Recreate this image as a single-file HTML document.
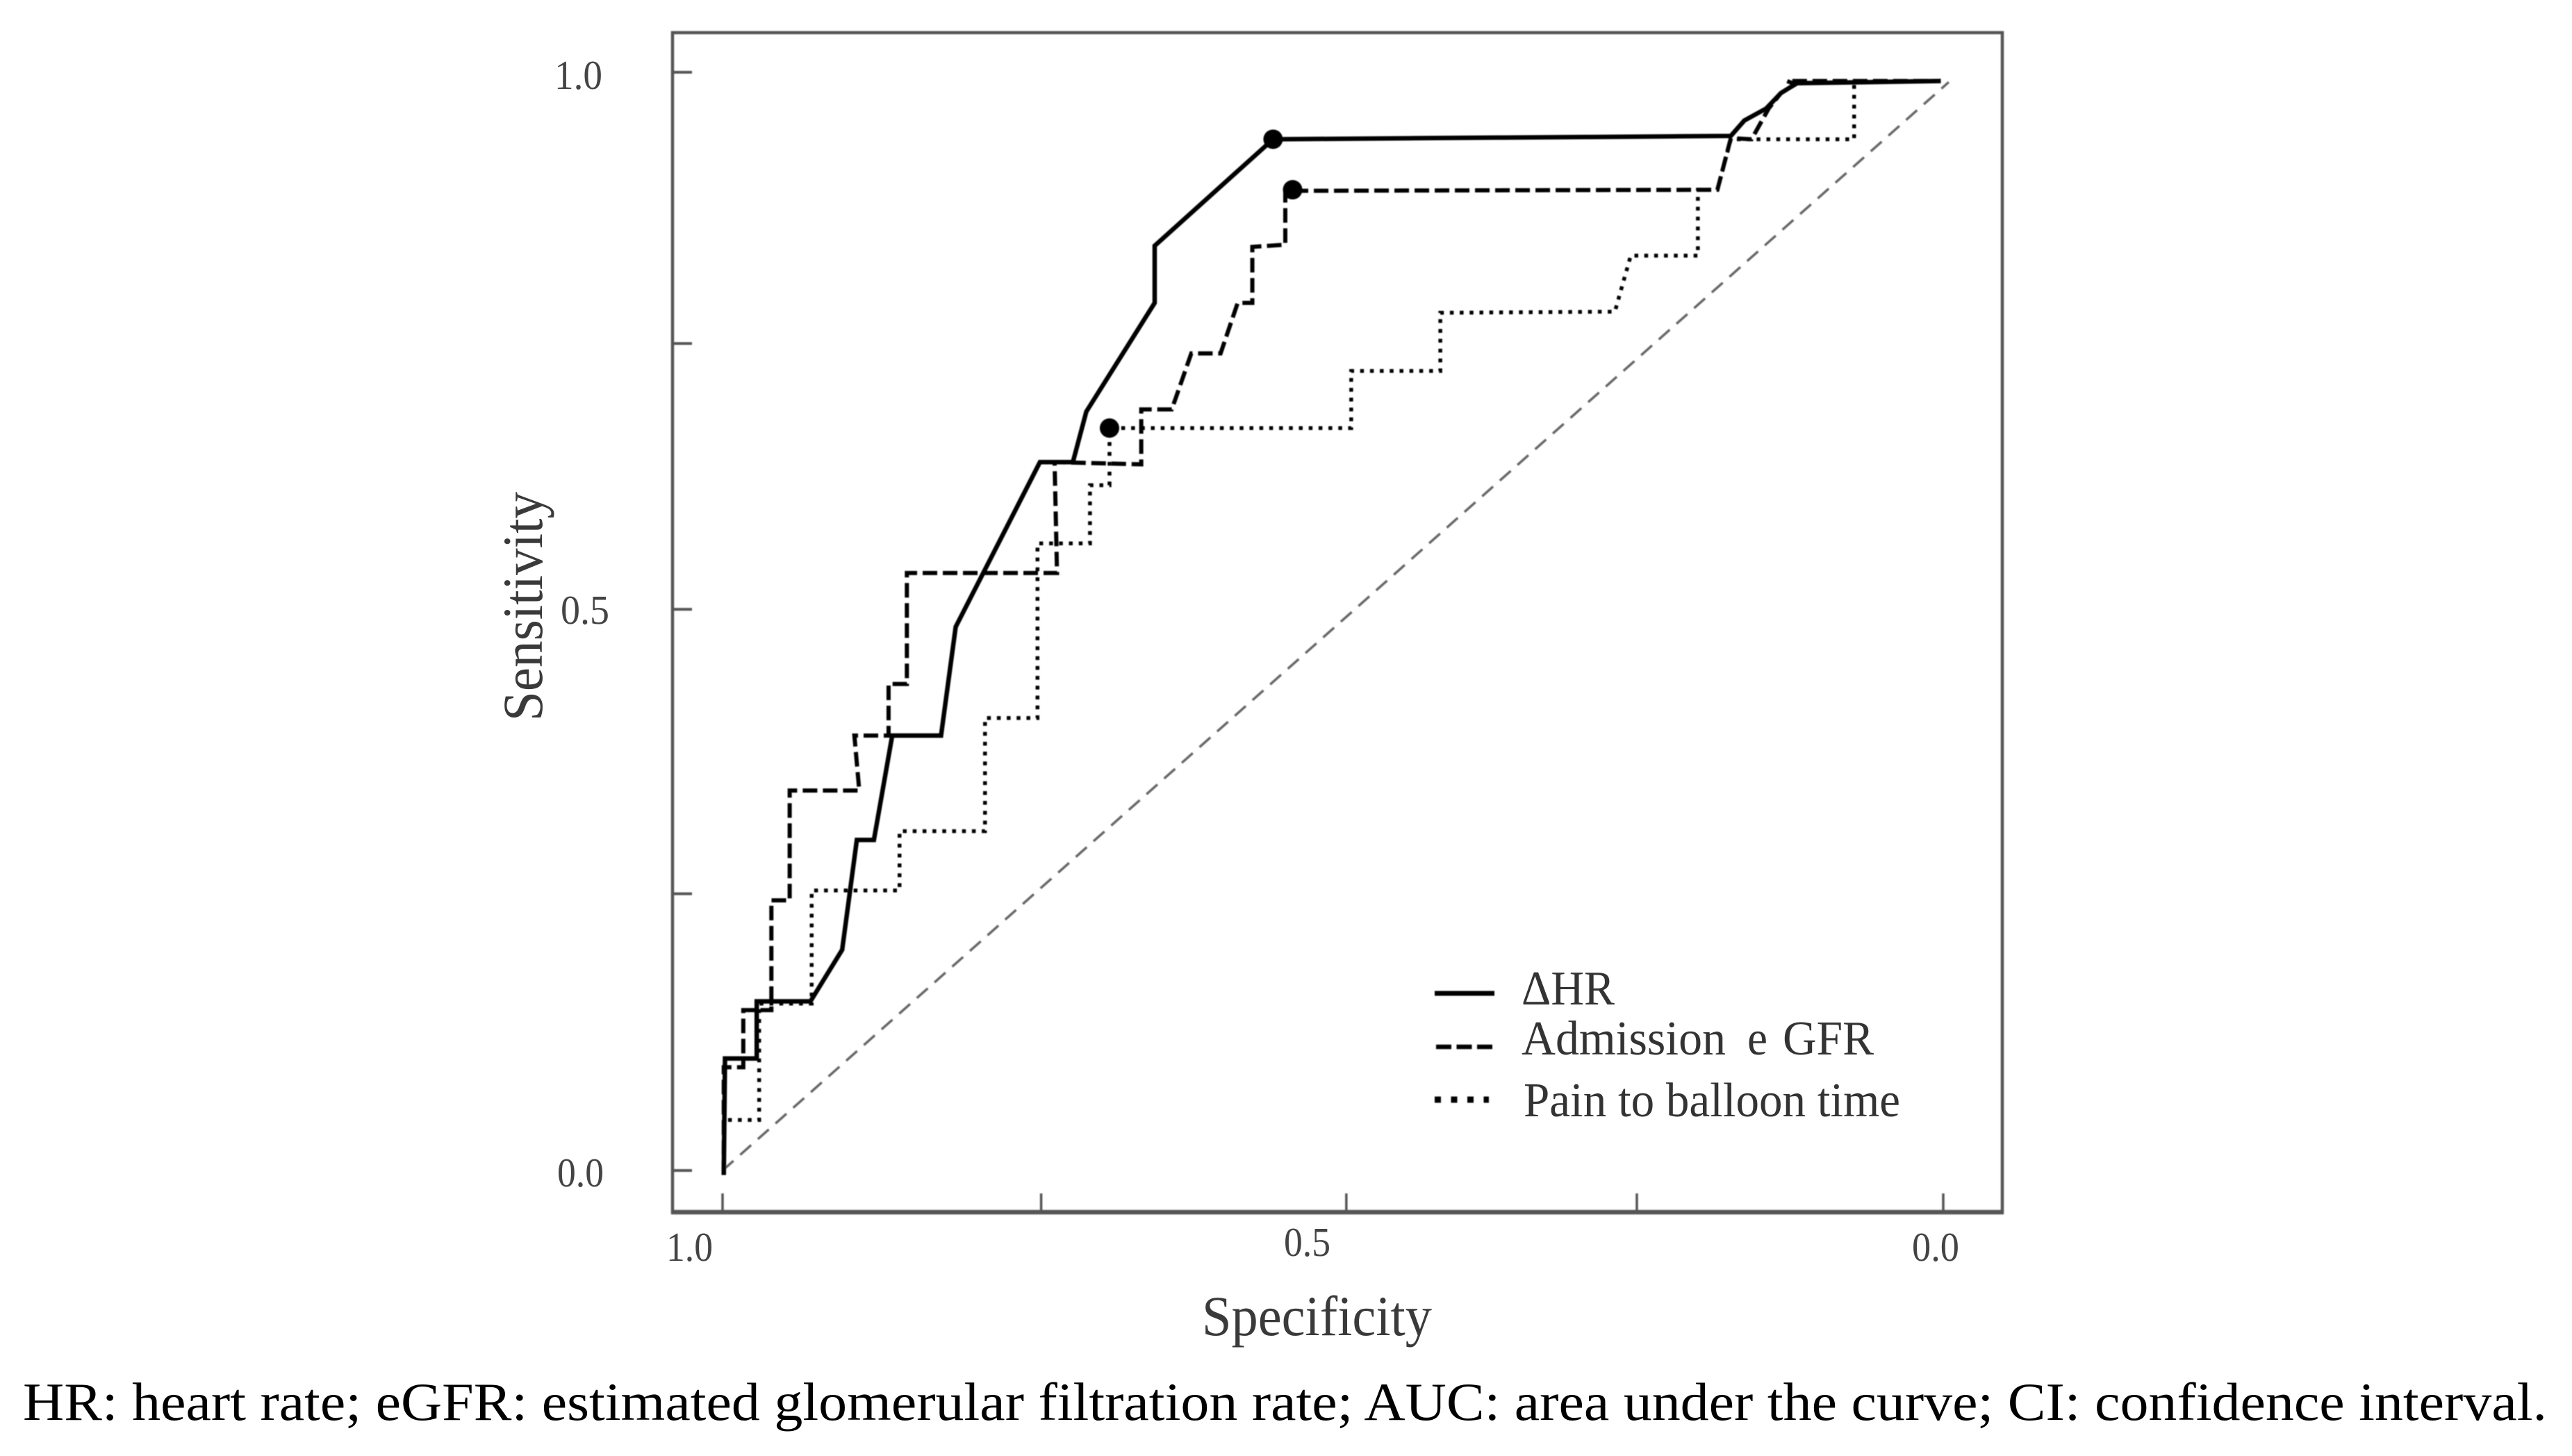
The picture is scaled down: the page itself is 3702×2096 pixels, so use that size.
<!DOCTYPE html>
<html lang="en">
<head>
<meta charset="utf-8">
<title>ROC curves</title>
<style>
html,body{margin:0;padding:0;background:#fff}
svg{display:block}
text{font-family:"Liberation Serif",serif}
.tick{font-size:59px;fill:#444}
.axis{font-size:82px;fill:#3a3a3a}
.leg{font-size:70px;fill:#333}
</style>
</head>
<body>
<svg id="chart" xmlns="http://www.w3.org/2000/svg" width="3702" height="2096" viewBox="0 0 3702 2096">
  <defs><filter id="soft" x="-2%" y="-2%" width="104%" height="104%"><feGaussianBlur stdDeviation="0.9"/></filter></defs>
  <rect x="0" y="0" width="3702" height="2096" fill="#fff"/>
  <g id="plot" filter="url(#soft)">
    <rect x="968" y="47" width="1914" height="1698" fill="none" stroke="#555" stroke-width="4.5"/>
    <line x1="966" y1="1745" x2="2884" y2="1745" stroke="#555" stroke-width="6.5"/>
    <g id="ticks"></g>
    <g id="series"></g>
    <g>
      <line x1="2065" y1="1430" x2="2151" y2="1430" stroke="#000" stroke-width="7"/>
      <line x1="2067" y1="1507" x2="2148" y2="1507" stroke="#000" stroke-width="6.5" stroke-dasharray="22 7.5"/>
      <line x1="2065" y1="1583" x2="2143" y2="1583" stroke="#000" stroke-width="9" stroke-dasharray="9 14.5"/>
    </g>
  </g>
  <text class="tick" x="798" y="128" textLength="69" lengthAdjust="spacingAndGlyphs">1.0</text>
  <text class="tick" x="807" y="898" textLength="70" lengthAdjust="spacingAndGlyphs">0.5</text>
  <text class="tick" x="802" y="1708" textLength="67" lengthAdjust="spacingAndGlyphs">0.0</text>
  <text class="tick" x="959" y="1815" textLength="67" lengthAdjust="spacingAndGlyphs">1.0</text>
  <text class="tick" x="1848" y="1808" textLength="67" lengthAdjust="spacingAndGlyphs">0.5</text>
  <text class="tick" x="2752" y="1815" textLength="68" lengthAdjust="spacingAndGlyphs">0.0</text>
  <text class="axis" transform="translate(780 1038) rotate(-90)" textLength="330" lengthAdjust="spacingAndGlyphs">Sensitivity</text>
  <text class="axis" x="1730" y="1922" textLength="331" lengthAdjust="spacingAndGlyphs">Specificity</text>
  <text class="leg" x="2190" y="1446" textLength="134" lengthAdjust="spacingAndGlyphs">ΔHR</text>
  <text class="leg" x="2190" y="1518" textLength="294" lengthAdjust="spacingAndGlyphs">Admission</text>
  <text class="leg" x="2515" y="1518" textLength="29" lengthAdjust="spacingAndGlyphs">e</text>
  <text class="leg" x="2566" y="1518" textLength="131" lengthAdjust="spacingAndGlyphs">GFR</text>
  <text class="leg" x="2193" y="1607" textLength="542" lengthAdjust="spacingAndGlyphs">Pain to balloon time</text>
  <text x="33" y="2044" font-size="77" fill="#000" textLength="3633" lengthAdjust="spacingAndGlyphs">HR: heart rate; eGFR: estimated glomerular filtration rate; AUC: area under the curve; CI: confidence interval.</text>
</svg>
<script>
var xTickValues = [0, 0.261, 0.511, 0.749, 1];
var yTickValues = [0, 0.252, 0.511, 0.753, 1];

var hrFpr = [0.001,0.002,0.028,0.028,0.072,0.098,0.110,0.124,0.139,0.179,0.191,0.260,0.287,0.298,0.354,0.354,0.451,0.826,0.837,0.855,0.867,0.880,0.998];
var hrSens = [-0.004,0.102,0.102,0.154,0.154,0.201,0.301,0.301,0.396,0.396,0.495,0.645,0.645,0.691,0.790,0.842,0.939,0.942,0.956,0.967,0.981,0.990,0.992];

var egfrFpr = [0.001,0.001,0.017,0.017,0.040,0.040,0.055,0.055,0.112,0.108,0.136,0.136,0.151,0.151,0.274,0.272,0.343,0.343,0.368,0.384,0.408,0.422,0.434,0.434,0.461,0.461,0.815,0.826,0.843,0.857,0.867,0.879,0.872,0.998];
var egfrSens = [-0.004,0.094,0.094,0.146,0.146,0.246,0.246,0.346,0.346,0.396,0.396,0.443,0.443,0.544,0.544,0.645,0.643,0.693,0.693,0.744,0.744,0.790,0.790,0.841,0.843,0.892,0.893,0.940,0.939,0.967,0.981,0.989,0.992,0.992];

var painFpr = [0.001,0.001,0.030,0.030,0.073,0.073,0.145,0.145,0.215,0.215,0.258,0.258,0.301,0.301,0.317,0.317,0.515,0.515,0.588,0.588,0.731,0.744,0.799,0.799,0.815,0.826,0.927,0.927,0.998];
var painSens = [-0.004,0.046,0.046,0.152,0.152,0.255,0.255,0.309,0.309,0.412,0.412,0.571,0.571,0.624,0.624,0.676,0.676,0.728,0.728,0.781,0.782,0.833,0.833,0.893,0.893,0.939,0.939,0.991,0.992];

var refFpr = [0, 1.0045];
var refSens = [0, 0.991];

var cutoffFpr = [0.451, 0.467, 0.317];
var cutoffSens = [0.939, 0.893, 0.676];

function xScale(v) { return 1040 + v * 1757; }
function yScale(v) { return 1685 - v * 1581; }

var NS = 'http://www.w3.org/2000/svg';
var ticksGroup = document.getElementById('ticks');
var seriesGroup = document.getElementById('series');

xTickValues.forEach(function (v) {
  var el = document.createElementNS(NS, 'line');
  
  
  el.setAttribute('x1', xScale(v));
  el.setAttribute('x2', xScale(v));
  el.setAttribute('y1', 1745);
  el.setAttribute('y2', 1718);
  el.setAttribute('stroke', '#555');
  el.setAttribute('stroke-width', '3.5');
  ticksGroup.appendChild(el);
});

yTickValues.forEach(function (v) {
  var el = document.createElementNS(NS, 'line');
  
  
  el.setAttribute('x1', 968);
  el.setAttribute('x2', 996);
  el.setAttribute('y1', yScale(v));
  el.setAttribute('y2', yScale(v));
  el.setAttribute('stroke', '#555');
  el.setAttribute('stroke-width', '4');
  ticksGroup.appendChild(el);
});

function buildPoints(fpr, sens) {
  return fpr.map(function (v, i) { return xScale(v) + ',' + yScale(sens[i]); }).join(' ');
}

var refLine = document.createElementNS(NS, 'polyline');


refLine.setAttribute('points', buildPoints(refFpr, refSens));
refLine.setAttribute('fill', 'none');
refLine.setAttribute('stroke', '#666');
refLine.setAttribute('stroke-width', '3.5');
refLine.setAttribute('stroke-dasharray', '21 13');
seriesGroup.appendChild(refLine);

var painLine = document.createElementNS(NS, 'polyline');


painLine.setAttribute('points', buildPoints(painFpr, painSens));
painLine.setAttribute('fill', 'none');
painLine.setAttribute('stroke', '#000');
painLine.setAttribute('stroke-width', '5.5');
painLine.setAttribute('stroke-dasharray', '5.5 8.7');
seriesGroup.appendChild(painLine);

var egfrLine = document.createElementNS(NS, 'polyline');


egfrLine.setAttribute('points', buildPoints(egfrFpr, egfrSens));
egfrLine.setAttribute('fill', 'none');
egfrLine.setAttribute('stroke', '#000');
egfrLine.setAttribute('stroke-width', '6');
egfrLine.setAttribute('stroke-dasharray', '21 8');
seriesGroup.appendChild(egfrLine);

var hrLine = document.createElementNS(NS, 'polyline');


hrLine.setAttribute('points', buildPoints(hrFpr, hrSens));
hrLine.setAttribute('fill', 'none');
hrLine.setAttribute('stroke', '#000');
hrLine.setAttribute('stroke-width', '6.5');
seriesGroup.appendChild(hrLine);

cutoffFpr.forEach(function (v, i) {
  var dot = document.createElementNS(NS, 'circle');
  
  
  dot.setAttribute('cx', xScale(v));
  dot.setAttribute('cy', yScale(cutoffSens[i]));
  dot.setAttribute('r', '14');
  dot.setAttribute('fill', '#000');
  seriesGroup.appendChild(dot);
});
</script>
</body>
</html>
